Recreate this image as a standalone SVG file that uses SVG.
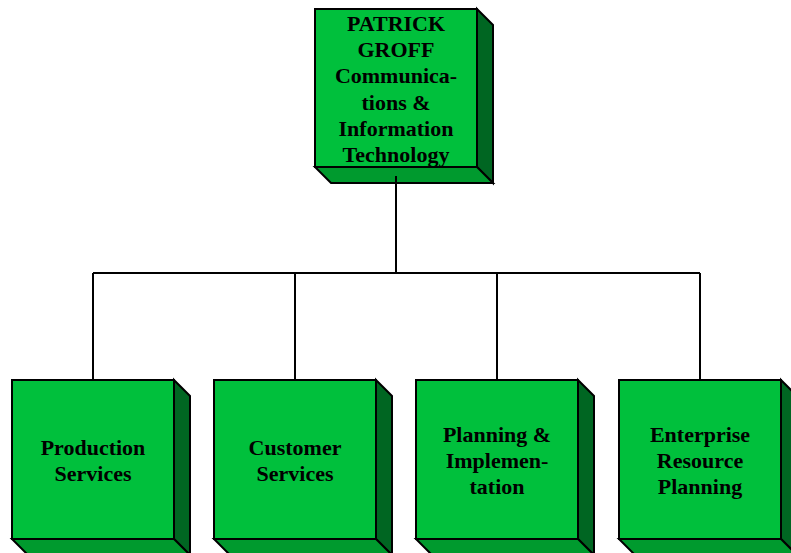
<svg xmlns="http://www.w3.org/2000/svg" width="791" height="553" viewBox="0 0 791 553">
<style>
.front{fill:#00C03C;stroke:#000;stroke-width:2}
.side{fill:#006622;stroke:#000;stroke-width:2}
.bot{fill:#009A2E;stroke:#000;stroke-width:2}
.lbl{font-family:"Liberation Serif","Times New Roman",serif;font-weight:bold;font-size:22px;fill:#000;text-anchor:middle}
.conn{fill:none;stroke:#000;stroke-width:2}
</style>
<rect width="791" height="553" fill="#fff"/>
<g id="node-top">
<polygon class="side" points="477,9 493,25 493,183 477,167"/>
<polygon class="bot" points="315,167 477,167 493,183 331,183"/>
<rect class="front" x="315" y="9" width="162" height="158"/>
<text class="lbl" x="396" y="31">PATRICK</text>
<text class="lbl" x="396" y="57">GROFF</text>
<text class="lbl" x="396" y="83">Communica-</text>
<text class="lbl" x="396" y="110">tions &amp;</text>
<text class="lbl" x="396" y="136">Information</text>
<text class="lbl" x="396" y="162">Technology</text>
</g>
<g id="node-production">
<polygon class="side" points="174,380 190,396 190,555 174,539"/>
<polygon class="bot" points="12,539 174,539 190,555 28,555"/>
<rect class="front" x="12" y="380" width="162" height="159"/>
<text class="lbl" x="93" y="455">Production</text>
<text class="lbl" x="93" y="481">Services</text>
</g>
<g id="node-customer">
<polygon class="side" points="376,380 392,396 392,555 376,539"/>
<polygon class="bot" points="214,539 376,539 392,555 230,555"/>
<rect class="front" x="214" y="380" width="162" height="159"/>
<text class="lbl" x="295" y="455">Customer</text>
<text class="lbl" x="295" y="481">Services</text>
</g>
<g id="node-planning">
<polygon class="side" points="578,380 594,396 594,555 578,539"/>
<polygon class="bot" points="416,539 578,539 594,555 432,555"/>
<rect class="front" x="416" y="380" width="162" height="159"/>
<text class="lbl" x="497" y="442">Planning &amp;</text>
<text class="lbl" x="497" y="468">Implemen-</text>
<text class="lbl" x="497" y="494">tation</text>
</g>
<g id="node-erp">
<polygon class="side" points="781,380 797,396 797,555 781,539"/>
<polygon class="bot" points="619,539 781,539 797,555 635,555"/>
<rect class="front" x="619" y="380" width="162" height="159"/>
<text class="lbl" x="700" y="442">Enterprise</text>
<text class="lbl" x="700" y="468">Resource</text>
<text class="lbl" x="700" y="494">Planning</text>
</g>
<g id="connectors">
<path class="conn" d="M396 176 V273 M93 273 H700 M93 273 V379 M295 273 V379 M497 273 V379 M700 273 V379"/>
</g>
</svg>
